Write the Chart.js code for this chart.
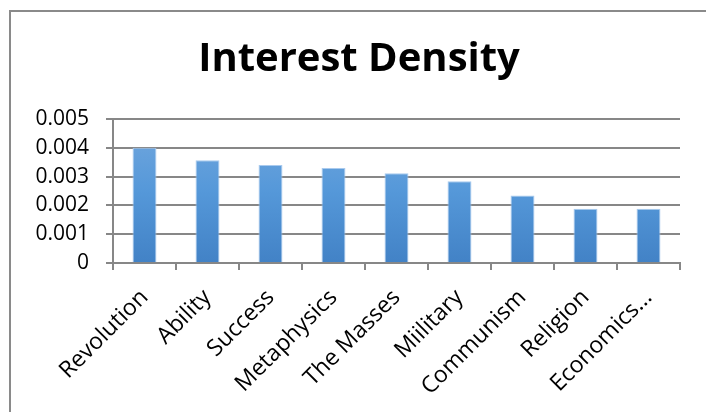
<!DOCTYPE html>
<html>
<head>
<meta charset="utf-8">
<script src="https://cdn.jsdelivr.net/npm/chart.js@4"></script>
<style>
  html, body { margin: 0; padding: 0; background: #ffffff; }
  #wrap { position: relative; width: 706px; height: 412px; overflow: hidden; }
  #frame { position: absolute; left: 9px; top: 10px; width: 720px; height: 420px;
           border-left: 2px solid #8a8a8a; border-top: 2px solid #8a8a8a; }
  canvas { position: absolute; left: 0; top: 0; }
</style>
</head>
<body>
<div id="wrap">
  <div id="frame"></div>
  <canvas id="c" width="706" height="412"></canvas>
</div>
<script>
const chartTitle = "Interest Density";
const categories = ["Revolution", "Ability", "Success", "Metaphysics", "The Masses", "Miilitary", "Communism", "Religion", "Economics..."];
const densityValues = [0.0040, 0.00357, 0.00340, 0.00330, 0.00312, 0.00284, 0.00234, 0.00188, 0.00188];
const yTickValues = [0, 0.001, 0.002, 0.003, 0.004, 0.005];

const gridColor = "#878787";
const fontFamily = "'Open Sans', 'Liberation Sans', sans-serif";

function barGradient(ctx) {
  const chart = ctx.chart;
  const area = chart.chartArea;
  if (!area) return "#5b9bd5";
  const g = chart.ctx.createLinearGradient(0, area.top, 0, area.bottom);
  g.addColorStop(0, "#74a8de");
  g.addColorStop(0.5, "#5598d9");
  g.addColorStop(1, "#4282c6");
  return g;
}

// Centre the title over the framed chart (not just the plot box)
const titleShift = {
  id: "titleShift",
  afterLayout(chart) {
    if (chart.titleBlock) chart.titleBlock.left = 38;
  }
};

new Chart(document.getElementById("c"), {
  type: "bar",
  data: {
    labels: categories,
    datasets: [{
      label: chartTitle,
      data: densityValues,
      backgroundColor: barGradient,
      borderColor: "#a9caee",
      borderWidth: 1,
      barPercentage: 0.38,
      categoryPercentage: 1.0
    }]
  },
  plugins: [titleShift],
  options: {
    responsive: false,
    animation: false,
    devicePixelRatio: 1,
    layout: { padding: { left: 0, right: 26, top: 0, bottom: 0 } },
    plugins: {
      legend: { display: false },
      tooltip: { enabled: false },
      title: {
        display: true,
        text: chartTitle,
        color: "#000000",
        font: { family: fontFamily, size: 40, weight: "bold", lineHeight: 1.2 },
        padding: { top: 36, bottom: 35 }
      }
    },
    scales: {
      x: {
        grid: { display: true, drawOnChartArea: false, drawTicks: true, tickLength: 7, color: gridColor, lineWidth: 2, offset: true },
        border: { display: true, color: gridColor, width: 2 },
        ticks: {
          color: "#000000",
          font: { family: fontFamily, size: 23 },
          minRotation: 45, maxRotation: 45,
          autoSkip: false,
          padding: 14
        },
        afterFit: (s) => { s.height = 149; }
      },
      y: {
        min: 0, max: 0.005,
        afterBuildTicks: (s) => { s.ticks = yTickValues.map(v => ({ value: v })); },
        grid: { color: gridColor, lineWidth: 2, tickLength: 7, drawTicks: true },
        border: { display: true, color: gridColor, width: 2 },
        ticks: {
          color: "#000000",
          font: { family: fontFamily, size: 21 },
          padding: 17,
          callback: (v) => (v === 0 ? "0" : v.toFixed(3))
        },
        afterFit: (s) => { s.width = 113; }
      }
    }
  }
});
</script>
</body>
</html>
